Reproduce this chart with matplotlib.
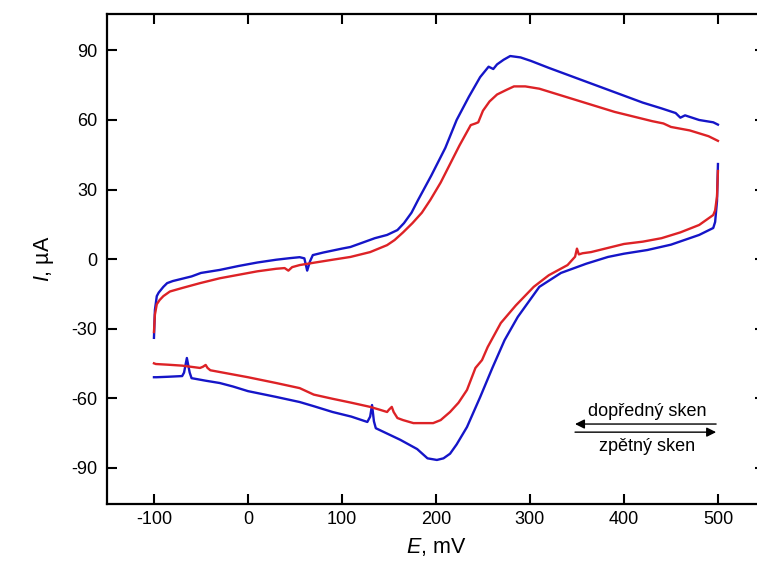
import numpy as np
import matplotlib
matplotlib.use("Agg")
import matplotlib.pyplot as plt

plt.rcParams['font.family'] = ['Liberation Sans', 'DejaVu Sans']
plt.rcParams['mathtext.fontset'] = 'custom'
plt.rcParams['mathtext.it'] = 'Liberation Sans:italic'
plt.rcParams['mathtext.rm'] = 'Liberation Sans'
plt.rcParams['axes.unicode_minus'] = False

# blue curve, upper branch (E in mV, I in uA)
blue_fwd_E = [-100, -99, -97, -95, -90, -86, -80, -60, -50, -30, -10, 10, 30, 45, 55, 60, 63, 66,
              69, 80, 100, 109, 120, 135, 148, 159, 166, 174, 181, 195, 210, 222, 235, 247, 256, 261,
              265, 272, 279, 290, 301, 320, 340, 360, 380, 400, 420, 440, 455, 460, 465, 480, 495, 500]
blue_fwd_I = [-34, -22, -16, -14.5, -12, -10.4, -9.5, -7.5, -6, -4.7, -3, -1.5, -0.3, 0.4, 0.8, 0.3, -5, -1,
              1.7, 2.8, 4.5, 5.2, 6.8, 9, 10.4, 12.5, 15.5, 20, 25.5, 36, 48, 60, 70, 78.5, 83, 82,
              84, 86, 87.6, 87, 85.5, 82.5, 79.5, 76.5, 73.5, 70.5, 67.5, 65, 63, 61, 62, 60, 59, 58]

# blue curve, lower branch
blue_rev_E = [500, 499, 497, 495, 480, 450, 425, 400, 383, 360, 333, 310, 287, 273, 260, 247, 233,
              222, 215, 208, 201, 191, 180, 162, 136, 134, 132, 130, 127, 110, 90, 70, 55, 30, 0,
              -16, -30, -45, -60, -62, -65, -68, -70, -85, -97, -100]
blue_rev_I = [41, 25, 16, 13.4, 10.4, 6.2, 3.9, 2.3, 0.9, -2, -6, -12, -25, -35, -47, -59.6, -72.5,
              -80, -84, -86, -86.7, -86, -82, -78, -73, -70, -63, -68, -70.3, -68, -66, -63.5, -61.7, -59.5, -57,
              -55, -53.5, -52.5, -51.4, -49, -42.7, -49, -50.5, -50.8, -51, -51]

# red curve, upper branch
red_fwd_E = [-100, -99, -97, -94, -90, -83, -70, -51, -30, -10, 10, 30, 39, 43, 47, 55, 70, 90, 109,
             130, 148, 156, 165, 175, 185, 194, 205, 215, 225, 237, 242, 245, 250, 257, 265, 275, 283,
             295, 310, 330, 350, 370, 390, 410, 430, 442, 450, 470, 490, 500]
red_fwd_I = [-31.5, -24, -19.5, -17.7, -16, -14, -12.5, -10.4, -8.3, -6.8, -5.3, -4.2, -3.9, -5, -3.5, -2.6, -1.6, -0.3, 0.9,
             3, 6, 8.2, 11.5, 15.5, 20, 25.5, 33, 41, 49, 57.8, 58.5, 59, 64, 68, 71, 73, 74.5,
             74.5, 73.5, 71, 68.5, 66, 63.5, 61.5, 59.5, 58.5, 57, 55.5, 53, 51]

# red curve, lower branch
red_rev_E = [500, 499, 497, 495, 480, 460, 440, 420, 400, 380, 365, 356, 352, 350, 348, 340, 320,
             304, 285, 269, 255, 249, 242, 233, 224, 215, 205, 197, 186, 176, 165, 159, 155, 153,
             150, 148, 140, 130, 110, 90, 70, 55, 30, 0, -20, -40, -43, -45, -48, -51, -70, -85, -98, -100]
red_rev_I = [38, 27, 21, 19, 14.7, 11.5, 9, 7.5, 6.5, 4.5, 3, 2.5, 2, 4.5, 1, -2.6, -7,
             -12, -20, -27.6, -38, -43.6, -47, -56.5, -62, -66, -69.5, -70.8, -70.8, -70.8, -69.5, -68.6, -66, -63.8,
             -65, -66, -65, -63.8, -62, -60.3, -58.5, -55.7, -53.5, -51, -49.5, -48, -47, -45.7, -46.5, -47, -46, -45.6, -45.3, -45]

x_ticks = [-100, 0, 100, 200, 300, 400, 500]
y_ticks = [-90, -60, -30, 0, 30, 60, 90]

blue = '#1515c8'
red = '#dd2226'

fig = plt.figure(figsize=(7.57, 5.75), dpi=100)
ax = fig.add_axes([0.1413, 0.1235, 0.8692, 0.852])

ax.plot(blue_fwd_E, blue_fwd_I, color=blue, lw=1.7)
ax.plot(blue_rev_E, blue_rev_I, color=blue, lw=1.7)
ax.plot(red_fwd_E, red_fwd_I, color=red, lw=1.7)
ax.plot(red_rev_E, red_rev_I, color=red, lw=1.7)

ax.set_xlim(-150, 550)
ax.set_ylim(-105.7, 105.7)
ax.set_xticks(x_ticks)
ax.set_yticks(y_ticks)
ax.tick_params(direction='in', length=7, width=1.5, top=True, right=True,
               labelsize=13, colors='black')
ax.tick_params(axis='x', pad=5)
ax.tick_params(axis='y', pad=7)
for s in ax.spines.values():
    s.set_linewidth(1.6)

ax.set_xlabel('$E$, mV', fontsize=15.5, labelpad=6)
ax.set_ylabel('$I$, µA', fontsize=15.5, labelpad=11)

# scan direction arrows
ax.annotate('', xy=(345, -71.2), xytext=(501, -71.2),
            arrowprops=dict(arrowstyle='-|>', color='black', lw=1.0, mutation_scale=14))
ax.annotate('', xy=(501, -74.7), xytext=(345, -74.7),
            arrowprops=dict(arrowstyle='-|>', color='black', lw=1.0, mutation_scale=14))
ax.text(425, -66, 'dopředný sken', ha='center', va='center', fontsize=13)
ax.text(425, -80.7, 'zpětný sken', ha='center', va='center', fontsize=13)

fig.savefig('out.png', dpi=100)
